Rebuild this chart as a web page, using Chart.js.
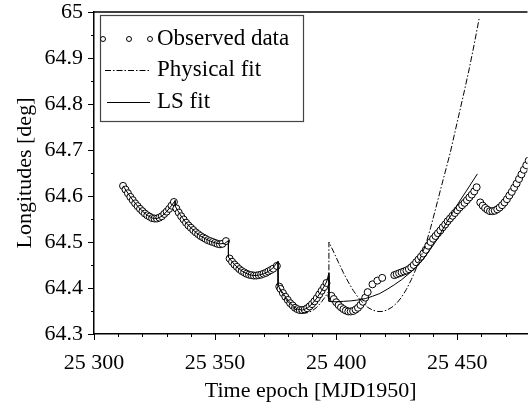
<!DOCTYPE html>
<html><head><meta charset="utf-8">
<script src="https://cdn.jsdelivr.net/npm/chart.js@4/dist/chart.umd.min.js"></script>
<style>html,body{margin:0;padding:0;background:#fff}#wrap{width:532px;height:412px;position:relative}</style>
</head><body><div id="wrap"><canvas id="c"></canvas></div>
<script>
// ---- data ----
const xTickValues = [25300, 25350, 25400, 25450];
const yTickValues = [64.3, 64.4, 64.5, 64.6, 64.7, 64.8, 64.9, 65.0];
const seriesNames = ['Observed data', 'Physical fit', 'LS fit'];

const obsDays = [
  25312,25313,25314,25315,25316,25317,25318,25319,25320,25321,25322,25323,25324,25325,25326,25327,25328,25329,25330,25331,25332,25333,
  25334,25335,25336,25337,25338,25339,25340,25341,25342,25343,25344,25345,25346,25347,25348,25349,25350,25351,25352,25353,25354.5,
  25356,25357,25358,25359,25360,25361,25362,25363,25364,25365,25366,25367,25368,25369,25370,25371,25372,25373,25374,25375.5,
  25376.5,25377,25378,25379,25380,25381,25382,25383,25384,25385,25386,25387,25388,25389,25390,25391,25392,25393,25394,25395,25396,
  25398,25399,25400,25401,25402,25403,25404,25405,25406,25407,25408,25409,25410,25411,25412,25413,25415,25417,25419,
  25424,25425,25426,25427,25428,25429,25430,25431,25432,25433,25434,25435,25436,25437,25438,25439,25440,25441,25442,25443,25444,
  25445,25446,25447,25448,25449,25450,25451,25452,25453,25454,25455,25456,25457,25458,
  25459.5,25460.5,25461.5,25462.5,25463.5,25464.5,25465.5,25466.5,25467.5,25468.5,25469.5,25470.5,25471.5,25472.5,25473.5,25474.5,25475.5,25476.5,25477.5,25478.5,25479.5
];
const obsLongitudes = [
  64.622,64.614,64.606,64.598,64.591,64.584,64.578,64.572,64.567,64.562,64.558,64.555,64.552,64.551,64.551,64.553,64.556,64.561,64.566,64.572,64.579,64.587,
  64.573,64.564,64.556,64.549,64.542,64.536,64.531,64.526,64.521,64.517,64.513,64.510,64.507,64.504,64.502,64.500,64.498,64.496,64.495,64.496,64.502,
  64.464,64.457,64.451,64.446,64.441,64.437,64.434,64.431,64.429,64.428,64.427,64.427,64.428,64.429,64.431,64.433,64.436,64.439,64.442,64.448,
  64.403,64.398,64.389,64.381,64.374,64.367,64.362,64.357,64.354,64.352,64.352,64.353,64.356,64.360,64.365,64.371,64.378,64.386,64.394,64.402,64.411,
  64.383,64.376,64.369,64.363,64.358,64.354,64.351,64.349,64.349,64.350,64.353,64.357,64.363,64.370,64.379,64.391,64.408,64.416,64.422,
  64.428,64.430,64.432,64.434,64.436,64.438,64.441,64.445,64.450,64.456,64.462,64.468,64.475,64.483,64.492,64.500,64.507,64.513,64.519,64.525,64.532,
  64.538,64.545,64.551,64.557,64.563,64.569,64.575,64.580,64.585,64.591,64.597,64.603,64.610,64.619,
  64.586,64.579,64.574,64.570,64.567,64.567,64.568,64.571,64.575,64.580,64.586,64.593,64.601,64.609,64.618,64.627,64.637,64.647,64.657,64.667,64.677
];

const physDays = [
  25376.5,25378,25380,25382,25384,25386,25388,25390,25392,25394,25396,25397,
  25397,25399,25401,25403,25405,25407,25409,25411,25413,25415,25417,25419,25421,25423,25425,25427,25429,25431,25433,25435,25437,
  25439,25441,25443,25445,25447,25449,25451,25453,25455,25457,25459
];
const physLongitudes = [
  64.400,64.385,64.370,64.358,64.350,64.346,64.346,64.350,64.358,64.370,64.385,64.394,
  64.500,64.478,64.455,64.433,64.413,64.395,64.380,64.368,64.358,64.352,64.349,64.349,64.352,64.358,64.367,64.380,64.397,64.418,64.442,64.468,64.495,
  64.531,64.571,64.612,64.652,64.692,64.738,64.784,64.830,64.878,64.930,64.985
];

const lsDays = [
  25312,25314,25316,25318,25320,25322,25324,25326,25328,25330,25332,25333.5,
  25333.5,25336,25338,25340,25342,25344,25346,25348,25350,25352,25354,25355.5,
  25355.5,25358,25360,25362,25364,25366,25368,25370,25372,25374,25376,
  25376,25378,25380,25382,25384,25386,25388,25390,25392,25394,25396,25397,
  25397,25400,25403,25406,25409,25412,25415,25418,25421,25424,25427,25430,25433,25436,25439,25442,25445,25448,25451,25454,25458.3
];
const lsLongitudes = [
  64.622,64.606,64.591,64.578,64.567,64.558,64.552,64.551,64.556,64.566,64.579,64.590,
  64.578,64.556,64.542,64.531,64.521,64.513,64.507,64.502,64.498,64.496,64.497,64.503,
  64.467,64.451,64.441,64.434,64.429,64.427,64.428,64.431,64.436,64.444,64.458,
  64.405,64.389,64.374,64.362,64.354,64.352,64.356,64.365,64.378,64.394,64.413,64.432,
  64.371,64.370,64.371,64.372,64.374,64.377,64.382,64.388,64.397,64.407,64.418,64.431,64.445,64.463,64.485,64.508,64.537,64.563,64.589,64.613,64.648
];

// ---- chart ----
const FONT = '"Liberation Serif", "Times New Roman", serif';
const toXY = (xs, ys) => xs.map((x, i) => ({x, y: ys[i]}));

const framePlugin = {
  id: 'frame',
  afterDatasetsDraw(chart) {
    const {ctx, chartArea: a, scales: {x, y}} = chart;
    ctx.save();
    ctx.strokeStyle = '#000';
    ctx.lineWidth = 1.5;
    ctx.beginPath();
    ctx.moveTo(a.left, a.top); ctx.lineTo(a.right, a.top);
    ctx.stroke();
    ctx.lineWidth = 1;
    for (let v = x.min; v <= x.max + 1e-9; v += 10) {
      const px = Math.round(x.getPixelForValue(v)) + 0.5;
      const major = xTickValues.includes(v);
      ctx.beginPath(); ctx.moveTo(px, a.bottom); ctx.lineTo(px, a.bottom + (major ? 6 : 3)); ctx.stroke();
    }
    for (let k = 0; k <= 14; k++) {
      const v = y.min + k * 0.05;
      const py = Math.round(y.getPixelForValue(v)) + 0.5;
      const major = k % 2 === 0;
      ctx.beginPath(); ctx.moveTo(a.left, py); ctx.lineTo(a.left - (major ? 6 : 3), py); ctx.stroke();
    }
    ctx.restore();
  },
  afterDraw(chart) {
    const {ctx, chartArea: a} = chart;
    const bx = a.left + 6, by = a.top + 3, bw = 203, bh = 106;
    ctx.save();
    ctx.fillStyle = '#fff';
    ctx.fillRect(bx, by, bw, bh);
    ctx.strokeStyle = '#444';
    ctx.lineWidth = 1.2;
    ctx.strokeRect(bx + 0.5, by + 0.5, bw, bh);
    const rows = [by + 24, by + 55, by + 87];
    ctx.font = '23px ' + FONT;
    ctx.textBaseline = 'middle';
    ctx.textAlign = 'left';
    chart.data.datasets.forEach((ds, i) => {
      const ry = rows[i];
      ctx.strokeStyle = '#000';
      ctx.lineWidth = 1;
      if (i === 0) {
        [3, 29, 50].forEach(dx => {
          ctx.beginPath(); ctx.arc(bx + dx, ry, 2.5, 0, Math.PI * 2);
          ctx.fillStyle = '#fff'; ctx.fill(); ctx.stroke();
        });
      } else {
        ctx.setLineDash(ds.borderDash || []);
        ctx.beginPath(); ctx.moveTo(bx + (i === 1 ? 5 : 7), ry + 0.5); ctx.lineTo(bx + 50, ry + 0.5); ctx.stroke();
        ctx.setLineDash([]);
      }
      ctx.fillStyle = '#000';
      ctx.fillText(ds.label, bx + 57, ry);
    });
    ctx.restore();
  }
};

new Chart(document.getElementById('c'), {
  type: 'scatter',
  data: {
    datasets: [
      { label: seriesNames[0], data: toXY(obsDays, obsLongitudes), showLine: false,
        pointRadius: 3.5, pointHoverRadius: 3.5, pointBorderWidth: 1, pointBorderColor: '#000', pointBackgroundColor: '#fff', order: 3 },
      { label: seriesNames[1], data: toXY(physDays, physLongitudes), showLine: true, borderColor: '#000', borderWidth: 1,
        borderDash: [6, 2, 1.5, 2], pointRadius: 0, tension: 0, order: 2 },
      { label: seriesNames[2], data: toXY(lsDays, lsLongitudes), showLine: true, borderColor: '#000', borderWidth: 1,
        pointRadius: 0, tension: 0, order: 1 }
    ]
  },
  options: {
    responsive: true, maintainAspectRatio: false, animation: false, devicePixelRatio: 1,
    layout: { padding: { top: 12, right: 0, left: 0, bottom: 0 } },
    plugins: { legend: { display: false }, tooltip: { enabled: false } },
    scales: {
      x: {
        type: 'linear', min: 25300, max: 25479,
        afterBuildTicks: s => { s.ticks = xTickValues.map(v => ({value: v})); },
        afterFit: s => { s.height = 78; s.paddingLeft = 0; s.paddingRight = 0; },
        grid: { display: false, drawTicks: false },
        border: { display: true, color: '#000', width: 1.5 },
        ticks: { color: '#000', font: { family: FONT, size: 22 }, padding: 16, maxRotation: 0,
          callback: v => String(v).replace(/\B(?=(\d{3})+(?!\d))/g, ' ') },
        title: { display: true, text: 'Time epoch [MJD1950]', color: '#000', font: { family: FONT, size: 22 }, padding: { top: 0, bottom: 8 } }
      },
      y: {
        type: 'linear', min: 64.3, max: 65,
        afterBuildTicks: s => { s.ticks = yTickValues.map(v => ({value: v})); },
        afterFit: s => { s.width = 94; s.paddingTop = 0; s.paddingBottom = 0; },
        grid: { display: false, drawTicks: false },
        border: { display: true, color: '#000', width: 1.5 },
        ticks: { color: '#000', font: { family: FONT, size: 22 }, padding: 11,
          callback: v => String(Math.round(v * 10) / 10) },
        title: { display: true, text: 'Longitudes [deg]', color: '#000', font: { family: FONT, size: 22 }, padding: { top: 12, bottom: 0 } }
      }
    }
  },
  plugins: [framePlugin]
});
</script>
</body></html>
